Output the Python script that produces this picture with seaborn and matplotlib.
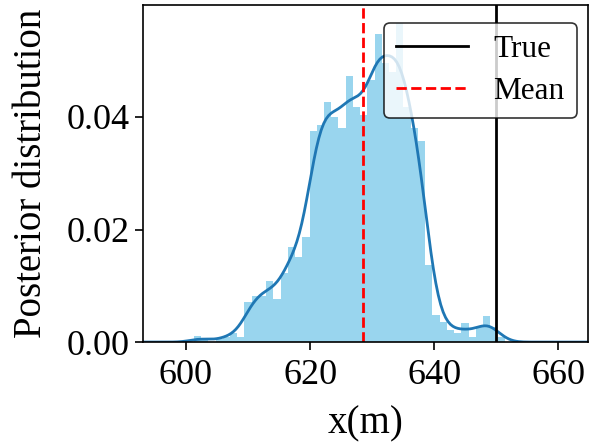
import numpy as np
import pandas as pd
import matplotlib
matplotlib.use("Agg")
import matplotlib.pyplot as plt
import seaborn as sns

# ---- data ----
bin_start = 601.27
bin_width = 1.165
densities = [
    0.0010, 0.0007, 0.0000, 0.0006, 0.0009,
    0.0016, 0.0009, 0.0071, 0.0082, 0.0082, 0.0108, 0.0076, 0.0123, 0.0169, 0.0151, 0.0187,
    0.0375, 0.0385, 0.0427, 0.0400, 0.0380, 0.0473, 0.0418, 0.0404, 0.0466, 0.0548,
    0.0496, 0.0480, 0.0567, 0.0418, 0.0380, 0.0357,
    0.0137, 0.0048, 0.0036, 0.0021, 0.0016, 0.0034, 0.0009, 0.0027, 0.0046, 0.0027,
    0.0009,
]
true_value = 650.0
mean_value = 628.5
xticks = [600, 620, 640, 660]
yticks = [0.00, 0.02, 0.04]

edges = (bin_start + bin_width * np.arange(len(densities) + 1)).tolist()
centers = [(a + b) / 2 for a, b in zip(edges[:-1], edges[1:])]
df = pd.DataFrame({"x": centers, "w": densities})

plt.rcParams["font.family"] = ["Liberation Serif", "DejaVu Serif"]
plt.rcParams["mathtext.fontset"] = "stix"

fig = plt.figure(figsize=(5.94, 4.46), dpi=100)
ax = fig.add_axes([0.241, 0.233, 0.749, 0.756])

sns.histplot(data=df, x="x", weights="w", bins=edges, stat="count",
             color="skyblue", alpha=0.85, linewidth=0, ax=ax)
sns.kdeplot(data=df, x="x", weights="w", bw_method=0.2, cut=5,
            color="#1f77b4", linewidth=2, ax=ax)

ax.axvline(true_value, color="black", linewidth=2, label="True")
ax.axvline(mean_value, color="red", linestyle="--", linewidth=2, label="Mean")

ax.set_xlim(593.1, 664.8)
ax.set_ylim(0, 0.0599)
ax.set_xticks(xticks)
ax.set_yticks(yticks)
ax.set_yticklabels([f"{v:.2f}" for v in yticks])
ax.tick_params(labelsize=26, length=6, width=1.2)
ax.tick_params(axis="x", pad=6)
for s in ax.spines.values():
    s.set_linewidth(1.2)
ax.set_xlabel("x(m)", fontsize=28, labelpad=10)
ax.set_ylabel("Posterior distribution", fontsize=28, labelpad=12)

leg = ax.legend(loc="upper right", bbox_to_anchor=(0.975, 0.947), fontsize=22.5,
                framealpha=0.8, edgecolor="black", fancybox=True, borderaxespad=0,
                handlelength=2.3, borderpad=0.4, labelspacing=0.4)
leg.get_frame().set_linewidth(1.2)

fig.savefig("out.png", dpi=100)
